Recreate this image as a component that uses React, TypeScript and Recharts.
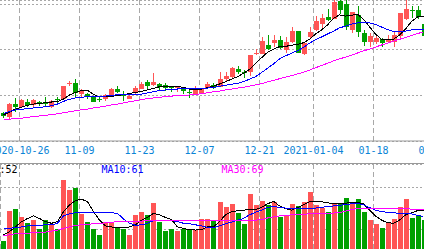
import { ComposedChart, Bar, Line, XAxis, YAxis, CartesianGrid } from "recharts"

// trading-day index of each date label, and the label text
const TICK_DAYS = [3, 13, 23, 33, 43, 52, 62, 72]
const TICK_LABELS = ["2020-10-26", "11-09", "11-23", "12-07", "12-21", "2021-01-04", "01-18", "02-01"]

const OPEN = [
    10.21, 10.05, 10.64, 10.53, 10.73, 10.57, 10.69, 10.71, 10.51, 10.83,
    10.86, 11.52, 11.53, 11.06, 11.05, 10.94, 10.84, 10.83, 10.94, 11.28,
    11.05, 10.87, 11.09, 11.31, 11.60, 11.46, 11.50, 11.46, 11.37, 11.32,
    11.31, 11.16, 11.06, 11.06, 11.31, 11.46, 11.38, 11.71, 11.79, 12.15,
    12.04, 12.04, 12.83, 12.82, 13.21, 13.31, 13.45, 12.99, 13.35, 13.82,
    12.82, 13.57, 13.87, 14.13, 14.45, 14.38, 15.16, 15.01, 13.84, 14.53,
    13.75, 13.35, 13.31, 13.46, 13.31, 13.35, 13.57, 14.34, 14.73, 14.75, 14.13,
]
const CLOSE = [
    10.10, 10.62, 10.49, 10.82, 10.58, 10.80, 10.62, 10.64, 10.77, 10.78,
    11.41, 11.54, 11.09, 11.21, 10.94, 10.72, 10.81, 11.02, 11.27, 11.15,
    10.95, 10.99, 11.31, 11.52, 11.41, 11.60, 11.38, 11.35, 11.34, 11.37,
    11.16, 11.10, 11.27, 11.27, 11.50, 11.35, 11.72, 11.85, 12.19, 12.04,
    12.01, 12.77, 12.85, 13.40, 13.02, 13.43, 13.08, 13.35, 13.82, 12.87,
    13.31, 13.79, 14.25, 14.38, 14.34, 15.11, 14.75, 14.01, 14.64, 13.79,
    13.35, 13.60, 13.50, 13.29, 13.46, 13.65, 14.60, 14.78, 14.70, 14.45, 13.60,
]
const HIGH = [
    10.27, 10.67, 10.89, 10.84, 10.84, 10.86, 10.75, 10.91, 10.82, 10.93,
    11.41, 11.65, 11.72, 11.27, 11.09, 10.99, 10.94, 11.06, 11.32, 11.41,
    11.19, 11.04, 11.41, 11.59, 11.67, 12.00, 11.56, 11.53, 11.41, 11.41,
    11.38, 11.27, 11.41, 11.30, 11.60, 11.56, 12.04, 12.04, 12.26, 12.29,
    12.11, 12.77, 13.02, 13.55, 13.65, 13.65, 13.61, 13.57, 13.99, 13.82,
    13.34, 13.99, 14.48, 14.57, 14.78, 15.18, 15.32, 15.23, 14.67, 14.92,
    13.87, 13.75, 13.60, 13.50, 13.65, 13.79, 14.60, 15.18, 14.92, 14.92, 14.22,
]
const LOW = [
    10.01, 9.96, 10.27, 10.49, 10.49, 10.49, 10.53, 10.53, 10.45, 10.67,
    10.84, 11.41, 10.93, 10.94, 10.83, 10.70, 10.72, 10.75, 10.91, 11.09,
    10.77, 10.84, 11.06, 11.28, 11.27, 11.41, 11.21, 11.21, 11.16, 11.16,
    11.06, 10.90, 11.03, 11.04, 11.27, 11.29, 11.35, 11.60, 11.76, 11.94,
    11.75, 11.85, 12.77, 12.82, 12.99, 13.14, 13.03, 12.85, 13.31, 12.85,
    12.77, 13.50, 13.82, 13.94, 14.28, 14.34, 14.57, 13.87, 13.72, 13.57,
    13.17, 13.14, 13.25, 13.14, 13.29, 13.14, 13.50, 14.31, 14.38, 14.34, 13.52,
]
const MA5 = [
    10.14, 10.27, 10.40, 10.49, 10.56, 10.62, 10.64, 10.69, 10.71, 10.73,
    10.84, 11.02, 11.13, 11.21, 11.22, 11.05, 10.93, 10.93, 10.96, 11.00,
    11.03, 11.09, 11.12, 11.18, 11.24, 11.31, 11.38, 11.41, 11.41, 11.40,
    11.35, 11.28, 11.27, 11.27, 11.34, 11.41, 11.50, 11.60, 11.71, 11.82,
    11.97, 12.14, 12.41, 12.65, 12.89, 13.03, 13.14, 13.15, 13.20, 13.24,
    13.31, 13.46, 13.69, 13.87, 14.09, 14.38, 14.53, 14.48, 14.51, 14.56,
    14.34, 14.01, 13.69, 13.46, 13.43, 13.46, 13.65, 13.91, 14.24, 14.44, 14.48,
]
const MA10 = [
    10.21, 10.30, 10.36, 10.39, 10.42, 10.45, 10.48, 10.50, 10.55, 10.62,
    10.74, 10.83, 10.89, 10.92, 10.94, 10.94, 10.96, 10.97, 11.00, 11.03,
    11.05, 11.06, 11.06, 11.06, 11.11, 11.16, 11.21, 11.24, 11.27, 11.28,
    11.29, 11.31, 11.31, 11.31, 11.32, 11.35, 11.40, 11.44, 11.49, 11.53,
    11.60, 11.71, 11.82, 12.00, 12.19, 12.38, 12.60, 12.73, 12.85, 12.96,
    13.11, 13.29, 13.45, 13.56, 13.69, 13.82, 13.96, 14.04, 14.13, 14.18,
    14.20, 14.18, 14.11, 14.00, 13.89, 13.80, 13.78, 13.82, 13.87, 13.89, 13.91,
]
const MA30 = [
    9.96, 9.96, 9.98, 10.00, 10.04, 10.07, 10.10, 10.13, 10.15, 10.20,
    10.24, 10.28, 10.33, 10.37, 10.40, 10.45, 10.49, 10.53, 10.58, 10.62,
    10.67, 10.72, 10.77, 10.82, 10.86, 10.89, 10.92, 10.94, 10.97, 10.99,
    11.00, 11.02, 11.05, 11.07, 11.12, 11.16, 11.19, 11.24, 11.28, 11.32,
    11.35, 11.41, 11.46, 11.51, 11.59, 11.66, 11.73, 11.80, 11.87, 11.94,
    12.02, 12.11, 12.21, 12.31, 12.41, 12.51, 12.60, 12.68, 12.76, 12.86,
    12.95, 13.03, 13.12, 13.21, 13.29, 13.38, 13.46, 13.54, 13.63, 13.71, 13.79,
]

const VOL = [
    17, 75, 78, 63.5, 52, 58, 40.6, 57, 49.5, 40.6,
    133, 114, 119, 68.6, 53.3, 40.6, 28.6, 53.3, 53.3, 43.2,
    39.4, 28.6, 66.7, 72.4, 66.7, 90, 53.3, 37, 40.6, 36.8,
    40.6, 40.6, 38, 59, 59, 55, 92, 82.5, 87.6, 71,
    49.5, 106.7, 85.7, 94, 85.7, 92, 62, 64.8, 87.6, 83.8,
    92, 110.5, 85.7, 80, 72.4, 88.9, 87.6, 98.4, 89, 97,
    73, 57, 49.5, 42, 51.5, 59, 82, 97, 61.6, 66, 58,
]
const VOL_MA5 = [
    28.6, 35, 44, 54, 60, 65, 60, 54, 51, 54,
    73, 86, 94, 97, 92, 73, 57, 46, 44, 43,
    43, 44, 48, 57, 62, 70, 67, 62, 58, 44,
    41, 39, 38, 39, 44, 44, 54, 67, 73, 75,
    76, 77, 77, 81, 88, 93, 84, 79, 76, 81,
    86, 92, 93, 92, 90, 88, 88, 89, 91, 91,
    88, 76, 65, 57, 52, 51, 57, 67, 71, 75, 75,
]
const VOL_MA10 = [
    40, 41, 43, 44, 46, 46, 47, 48, 48, 51,
    65, 69, 71, 72, 72, 72, 72, 71, 71, 70,
    59, 51, 47, 48, 51, 56, 57, 57, 56, 54,
    51, 50, 48, 46, 43, 42, 46, 50, 53, 57,
    60, 67, 72, 76, 81, 83, 81, 80, 79, 79,
    79, 79, 80, 81, 83, 84, 85, 87, 88, 89,
    86, 81, 76, 73, 72, 71, 70, 70, 69, 66, 64,
]
const VOL_MA30 = [
    27, 29, 31, 32, 32, 33, 34, 34, 36, 38,
    41, 44, 47, 48, 49, 50, 50, 52, 53, 54,
    54, 55, 55, 55, 56, 57, 57, 57, 57, 57,
    57, 57, 57, 57, 56, 57, 57, 57, 57, 57,
    57, 57, 57, 58, 61, 63, 65, 66, 67, 67,
    68, 69, 69, 70, 70, 70.5, 71.5, 74, 77, 79,
    79, 79, 79, 79, 79, 79, 79, 79, 78, 78, 77,
]

const LEGEND_NAMES = ["MA5", "MA10", "MA30"]
const LEGEND_VALUES = [52, 61, 69]

const RED = "#ff5555"
const GREEN = "#00a000"
const GRID = "#a8a8a8"
const BORDER = "#999999"
const LINE_COLORS = ["#000000", "#0000ff", "#ff00ff"]
const MONO = "DejaVu Sans Mono"

const X_DOMAIN = [-0.5833, 70.0833]
const PRICE_DOMAIN = [9, 15.184]
const PRICE_TICKS = [10, 11, 12, 13, 14, 15]
const VOL_DOMAIN = [0, 164]
const VOL_TICKS = [40, 80, 120]

// date lines sit on the left edge of a candle, a third of a day before its centre
const tickPos = TICK_DAYS.map(d => d - 1 / 3)

const rows = OPEN.map((open, i) => ({
    i,
    open,
    close: CLOSE[i],
    high: HIGH[i],
    low: LOW[i],
    ma5: MA5[i],
    ma10: MA10[i],
    ma30: MA30[i],
    vol: VOL[i],
    vma5: VOL_MA5[i],
    vma10: VOL_MA10[i],
    vma30: VOL_MA30[i],
}))

const Candle = (props: any) => {
    const { x, y, width, height, payload } = props
    const { open, close, high, low } = payload
    const color = close >= open ? RED : GREEN
    const k = height / (high - low)
    const yOpen = y + (high - open) * k
    const yClose = y + (high - close) * k
    const left = Math.round(x + width / 2 - 2.5)
    const mid = left + 2.5
    const top = Math.round(Math.min(yOpen, yClose))
    const bodyH = Math.max(1, Math.round(Math.abs(yOpen - yClose)))
    return (
        <g>
            <line x1={mid} x2={mid} y1={Math.round(y)} y2={Math.round(y + height)} stroke={color} strokeWidth={1} />
            <rect x={left} y={top} width={5} height={bodyH} fill={color} />
        </g>
    )
}

const VolBar = (props: any) => {
    const { x, y, width, height, payload } = props
    const color = payload.close >= payload.open ? RED : GREEN
    const left = Math.round(x + width / 2 - 2.5)
    return <rect x={left} y={Math.round(y)} width={5} height={Math.max(0, height + 1)} fill={color} />
}

const maLine = (key: string, color: string) => (
    <Line
        key={key}
        dataKey={key}
        type="linear"
        stroke={color}
        strokeWidth={1}
        shapeRendering="crispEdges"
        dot={false}
        activeDot={false}
        legendType="none"
        isAnimationActive={false}
    />
)

const App = () => {
    return (
        <div style={{ position: "absolute", left: 0, top: 0, width: 424, height: 249, overflow: "hidden", background: "#fff" }}>
            <div style={{ position: "absolute", left: 0, top: 0 }}>
                <ComposedChart width={424} height={164} data={rows} margin={{ top: 0, right: 0, bottom: 0, left: 0 }}>
                    <CartesianGrid vertical={false} stroke={GRID} strokeDasharray="2 2" shapeRendering="crispEdges" />
                    <CartesianGrid horizontal={false} stroke={GRID} strokeDasharray="5 3" shapeRendering="crispEdges" />
                    <XAxis
                        dataKey="i"
                        type="number"
                        domain={X_DOMAIN}
                        allowDataOverflow
                        ticks={tickPos}
                        interval={0}
                        tickFormatter={(_v: number, idx: number) => TICK_LABELS[idx]}
                        tickLine={false}
                        tickMargin={0}
                        axisLine={{ stroke: BORDER }}
                        height={23}
                        tick={{ fill: "#0b84d6", fontSize: 10, fontFamily: MONO }}
                    />
                    <YAxis hide type="number" width={0} domain={PRICE_DOMAIN} ticks={PRICE_TICKS} allowDataOverflow />
                    <Bar dataKey={(d: any) => [d.low, d.high]} barSize={5} shape={Candle} isAnimationActive={false} />
                    {maLine("ma5", LINE_COLORS[0])}
                    {maLine("ma10", LINE_COLORS[1])}
                    {maLine("ma30", LINE_COLORS[2])}
                </ComposedChart>
            </div>
            <div style={{ position: "absolute", left: 0, top: 163, borderTop: `1px solid ${BORDER}` }}>
                <ComposedChart width={424} height={86} data={rows} margin={{ top: 0, right: 0, bottom: 0, left: 0 }}>
                    <CartesianGrid vertical={false} stroke={GRID} strokeDasharray="2 2" shapeRendering="crispEdges" />
                    <CartesianGrid horizontal={false} stroke={GRID} strokeDasharray="5 3" shapeRendering="crispEdges" />
                    <XAxis hide dataKey="i" type="number" domain={X_DOMAIN} allowDataOverflow ticks={tickPos} interval={0} height={0} />
                    <YAxis hide type="number" width={0} domain={VOL_DOMAIN} ticks={VOL_TICKS} allowDataOverflow />
                    <Bar dataKey="vol" barSize={5} shape={VolBar} isAnimationActive={false} />
                    {maLine("vma5", LINE_COLORS[0])}
                    {maLine("vma10", LINE_COLORS[1])}
                    {maLine("vma30", LINE_COLORS[2])}
                </ComposedChart>
            </div>
            <svg width={424} height={249} style={{ position: "absolute", left: 0, top: 0, pointerEvents: "none" }}>
                {LEGEND_NAMES.map((name, k) => (
                    <text key={name} x={-18.5 + 120 * k} y={173} fill={LINE_COLORS[k]} fontSize={10} fontFamily={MONO}>
                        {`${name}:${LEGEND_VALUES[k]}`}
                    </text>
                ))}
            </svg>
        </div>
    )
}

export default App
